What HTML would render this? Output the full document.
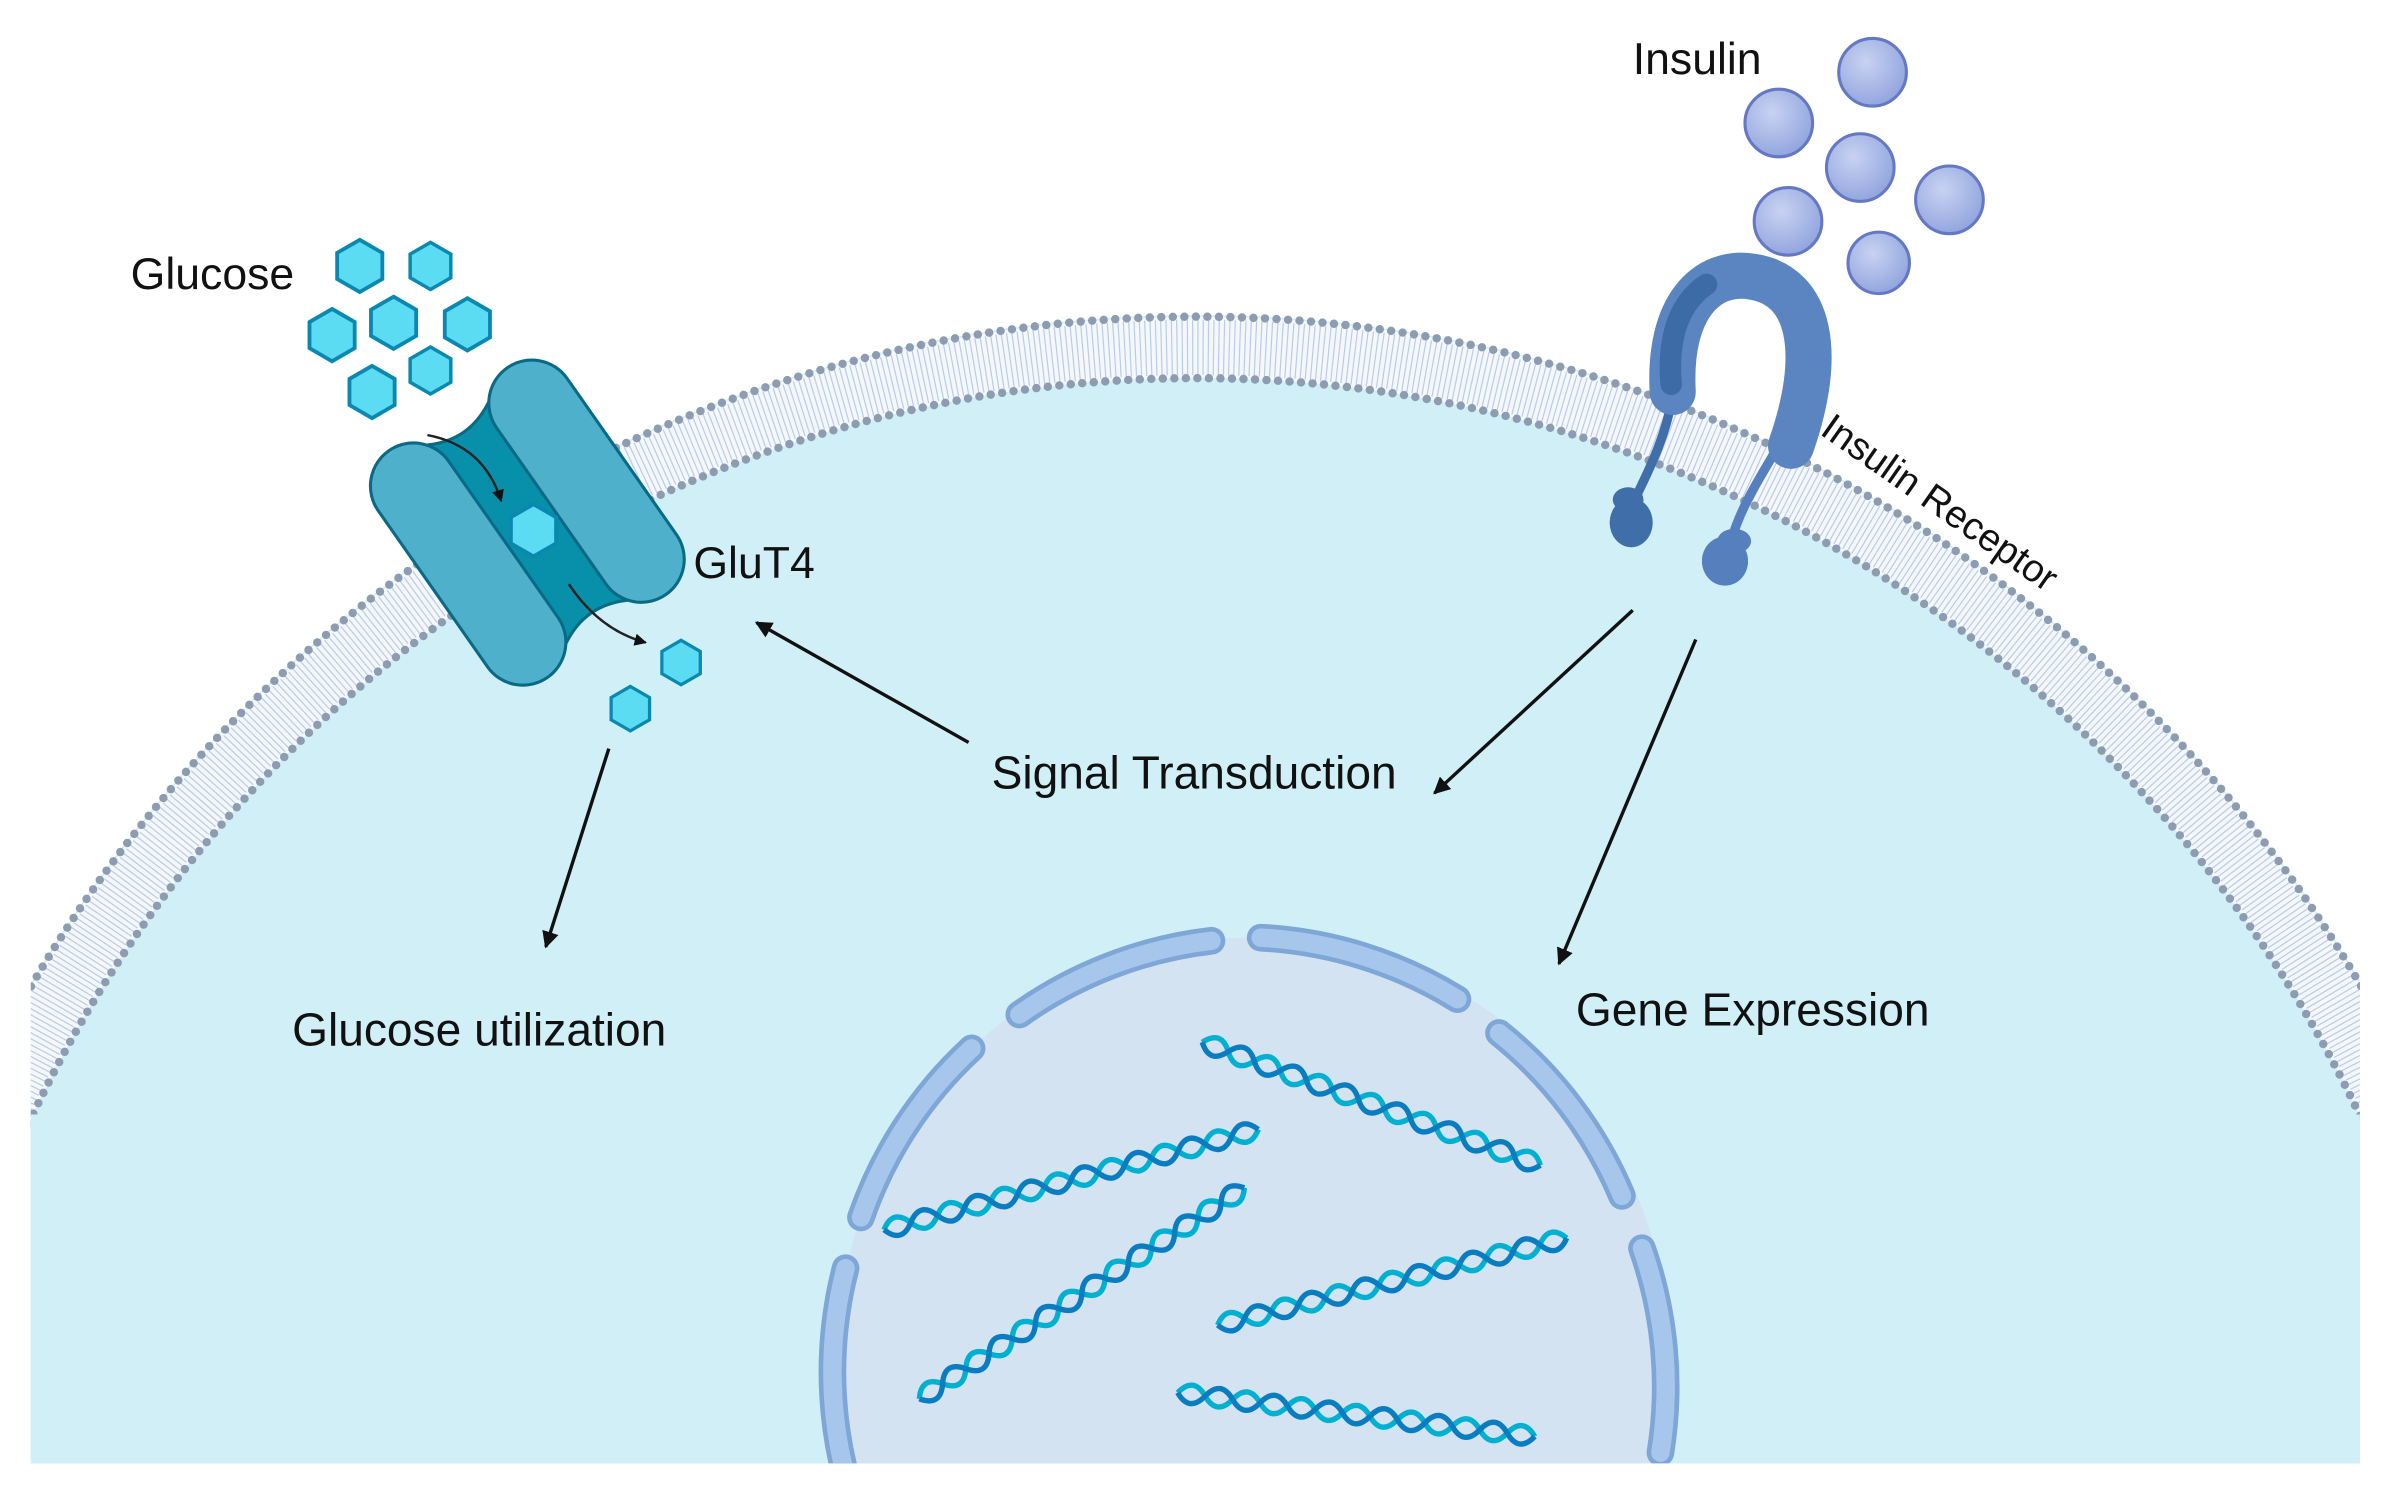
<!DOCTYPE html>
<html><head><meta charset="utf-8"><style>
html,body{margin:0;padding:0;background:#fff;width:2383px;height:1488px;overflow:hidden;}
svg{display:block;position:absolute;left:0;top:0;}
text{font-family:"Liberation Sans",sans-serif;fill:#111;}
</style></head><body>
<svg width="2383" height="1488" viewBox="0 0 1550 968" preserveAspectRatio="none" xmlns="http://www.w3.org/2000/svg">
<defs>
<clipPath id="cell"><rect x="20" y="0" width="1515" height="952"/></clipPath>
<clipPath id="nuc"><rect x="0" y="0" width="1550" height="952"/></clipPath>
<radialGradient id="ball" cx="0.4" cy="0.35" r="0.65">
<stop offset="0" stop-color="#c8d2f2"/><stop offset="1" stop-color="#93a6de"/></radialGradient>
<marker id="ah" viewBox="0 0 10 10" refX="9" refY="5" markerWidth="5" markerHeight="5" orient="auto-start-reverse"><path d="M0,0 L10,5 L0,10 z" fill="#111"/></marker>
<g id="hex"><polygon points="0,-17 14.7,-8.5 14.7,8.5 0,17 -14.7,8.5 -14.7,-8.5" fill="#5cdcf2" stroke="#0a88b0" stroke-width="2.5"/></g>
</defs>
<g clip-path="url(#cell)">
<circle cx="778" cy="1083" r="878" fill="#d0eff6"/>
<rect x="20" y="720" width="1515" height="240" fill="#d0eff6"/>
<circle cx="778" cy="1083" r="857" fill="none" stroke="#f4f8fc" stroke-width="40"/>
<circle cx="778" cy="1083" r="857" fill="none" stroke="#bccce6" stroke-width="36" stroke-dasharray="0.8 2.6"/>
<circle cx="778" cy="1083" r="877" fill="none" stroke="#8d9cb0" stroke-width="5.5" stroke-linecap="round" stroke-dasharray="0 7.5"/>
<circle cx="778" cy="1083" r="837" fill="none" stroke="#8d9cb0" stroke-width="5.5" stroke-linecap="round" stroke-dasharray="0 7.5"/>
<rect x="20" y="725" width="1515" height="240" fill="#d0eff6"/>
</g>
<g clip-path="url(#nuc)">
<circle cx="815" cy="880" r="270" fill="#d3e3f2"/>
<g fill="none" stroke-linecap="round">
<path d="M663,660 A270,270 0 0 1 788,612" stroke="#7ea6d6" stroke-width="18"/>
<path d="M663,660 A270,270 0 0 1 788,612" stroke="#a6c6ec" stroke-width="12"/>
<path d="M820,610 A270,270 0 0 1 948,650" stroke="#7ea6d6" stroke-width="18"/>
<path d="M820,610 A270,270 0 0 1 948,650" stroke="#a6c6ec" stroke-width="12"/>
<path d="M975,672 A270,270 0 0 1 1055,778" stroke="#7ea6d6" stroke-width="18"/>
<path d="M975,672 A270,270 0 0 1 1055,778" stroke="#a6c6ec" stroke-width="12"/>
<path d="M1068,812 A270,270 0 0 1 1080,945" stroke="#7ea6d6" stroke-width="18"/>
<path d="M1068,812 A270,270 0 0 1 1080,945" stroke="#a6c6ec" stroke-width="12"/>
<path d="M632,682 A270,270 0 0 0 560,792" stroke="#7ea6d6" stroke-width="18"/>
<path d="M632,682 A270,270 0 0 0 560,792" stroke="#a6c6ec" stroke-width="12"/>
<path d="M550,825 A270,270 0 0 0 550,960" stroke="#7ea6d6" stroke-width="18"/>
<path d="M550,825 A270,270 0 0 0 550,960" stroke="#a6c6ec" stroke-width="12"/>
</g>
</g>
<g fill="none" stroke-width="3.5">
<g transform="translate(782,678) rotate(20)"><path d="M0,0 q9,-12 18,0 t18,0 t18,0 t18,0 t18,0 t18,0 t18,0 t18,0 t18,0 t18,0 t18,0 t18,0 t18,0" stroke="#00b0d0"/><path d="M0,0 q9,12 18,0 t18,0 t18,0 t18,0 t18,0 t18,0 t18,0 t18,0 t18,0 t18,0 t18,0 t18,0 t18,0" stroke="#0a7cc0"/></g>
<g transform="translate(575,800) rotate(-15)"><path d="M0,0 q9,-12 18,0 t18,0 t18,0 t18,0 t18,0 t18,0 t18,0 t18,0 t18,0 t18,0 t18,0 t18,0 t18,0 t18,0" stroke="#00b0d0"/><path d="M0,0 q9,12 18,0 t18,0 t18,0 t18,0 t18,0 t18,0 t18,0 t18,0 t18,0 t18,0 t18,0 t18,0 t18,0 t18,0" stroke="#0a7cc0"/></g>
<g transform="translate(598,910) rotate(-33)"><path d="M0,0 q9,-12 18,0 t18,0 t18,0 t18,0 t18,0 t18,0 t18,0 t18,0 t18,0 t18,0 t18,0 t18,0 t18,0 t18,0" stroke="#00b0d0"/><path d="M0,0 q9,12 18,0 t18,0 t18,0 t18,0 t18,0 t18,0 t18,0 t18,0 t18,0 t18,0 t18,0 t18,0 t18,0 t18,0" stroke="#0a7cc0"/></g>
<g transform="translate(792,862) rotate(-14)"><path d="M0,0 q9,-12 18,0 t18,0 t18,0 t18,0 t18,0 t18,0 t18,0 t18,0 t18,0 t18,0 t18,0 t18,0 t18,0" stroke="#00b0d0"/><path d="M0,0 q9,12 18,0 t18,0 t18,0 t18,0 t18,0 t18,0 t18,0 t18,0 t18,0 t18,0 t18,0 t18,0 t18,0" stroke="#0a7cc0"/></g>
<g transform="translate(766,906) rotate(7)"><path d="M0,0 q9,-12 18,0 t18,0 t18,0 t18,0 t18,0 t18,0 t18,0 t18,0 t18,0 t18,0 t18,0 t18,0 t18,0" stroke="#00b0d0"/><path d="M0,0 q9,12 18,0 t18,0 t18,0 t18,0 t18,0 t18,0 t18,0 t18,0 t18,0 t18,0 t18,0 t18,0 t18,0" stroke="#0a7cc0"/></g>
</g>
<g transform="rotate(-35 343 340)">
<path d="M320,262 Q343,274 366,262 L366,418 Q343,406 320,418 Z" fill="#0890ab" stroke="#0a6a85" stroke-width="2"/>
<rect x="268" y="250" width="56" height="180" rx="28" fill="#4fb0cc" stroke="#0a6a85" stroke-width="2"/>
<rect x="362" y="250" width="56" height="180" rx="28" fill="#4fb0cc" stroke="#0a6a85" stroke-width="2"/>
</g>
<use href="#hex" x="347" y="345"/>
<path d="M278,283 Q315,290 326,326" fill="none" stroke="#222" stroke-width="1.6" marker-end="url(#ah)"/>
<path d="M370,380 Q390,410 420,418" fill="none" stroke="#222" stroke-width="1.6" marker-end="url(#ah)"/>
<use href="#hex" x="234" y="173"/><use href="#hex" x="280" y="173" transform="translate(280 173) scale(0.9) translate(-280 -173)"/>
<use href="#hex" x="216" y="218"/><use href="#hex" x="256" y="210"/><use href="#hex" x="304" y="211"/>
<use href="#hex" x="242" y="255"/><use href="#hex" x="280" y="241" transform="translate(280 241) scale(0.9) translate(-280 -241)"/>
<use href="#hex" x="443" y="431" transform="translate(443 431) scale(0.85) translate(-443 -431)"/>
<use href="#hex" x="410" y="461" transform="translate(410 461) scale(0.85) translate(-410 -461)"/>
<g stroke="#6478c4" stroke-width="2" fill="url(#ball)">
<circle cx="1218" cy="47" r="22"/><circle cx="1157" cy="80" r="22"/><circle cx="1210" cy="109" r="22"/>
<circle cx="1268" cy="130" r="22"/><circle cx="1163" cy="144" r="22"/><circle cx="1222" cy="171" r="20"/>
</g>
<path d="M1088,258 C1082,290 1070,310 1060,332" fill="none" stroke="#3f6ea8" stroke-width="6"/>
<path d="M1160,285 C1145,310 1132,330 1126,352" fill="none" stroke="#5580bd" stroke-width="6"/>
<ellipse cx="1061" cy="340" rx="14" ry="16" fill="#3f6ea8"/><ellipse cx="1059" cy="325" rx="10" ry="8" fill="#3f6ea8"/>
<ellipse cx="1122" cy="365" rx="15" ry="16" fill="#5580bd"/><ellipse cx="1128" cy="352" rx="11" ry="8" fill="#5580bd"/>
<path d="M1088,255 C1085,200 1110,175 1140,180 C1178,186 1186,230 1165,290" fill="none" stroke="#5b85c0" stroke-width="30" stroke-linecap="round"/>
<path d="M1087,250 C1084,215 1095,195 1110,185" fill="none" stroke="#3d6ba6" stroke-width="14" stroke-linecap="round"/>
<g stroke="#111" stroke-width="2.2" fill="none" marker-end="url(#ah)">
<line x1="630" y1="483" x2="492" y2="405"/>
<line x1="1062" y1="397" x2="933" y2="516"/>
<line x1="1103" y1="416" x2="1014" y2="627"/>
<line x1="396" y1="487" x2="355" y2="616"/>
</g>
<text x="85" y="188" font-size="29">Glucose</text>
<text x="1062" y="48" font-size="29">Insulin</text>
<text x="451" y="376" font-size="29">GluT4</text>
<text x="645" y="513" font-size="30">Signal Transduction</text>
<text x="190" y="680" font-size="30">Glucose utilization</text>
<text x="1025" y="667" font-size="30">Gene Expression</text>
<text x="1183" y="282" font-size="25" transform="rotate(35 1183 282)">Insulin Receptor</text>
</svg>
</body></html>
